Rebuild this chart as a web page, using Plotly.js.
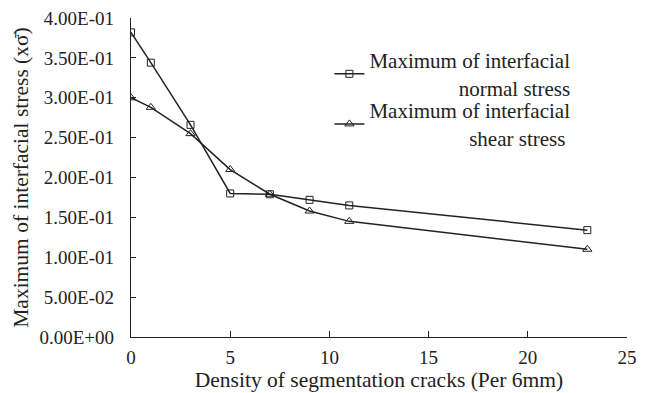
<!DOCTYPE html>
<html>
<head>
<meta charset="utf-8">
<script src="https://cdn.plot.ly/plotly-3.0.1.min.js"></script>
<style>html,body{margin:0;padding:0;background:#fff;}</style>
</head>
<body>
<div id="chart" style="width:651px;height:393px;"></div>
<script>
const crackDensity = [0, 1, 3, 5, 7, 9, 11, 23];
const normalStress = [0.382, 0.344, 0.266, 0.180, 0.179, 0.172, 0.165, 0.134];
const shearStress  = [0.300, 0.288, 0.255, 0.210, 0.179, 0.158, 0.145, 0.110];
const xTickVals = [0, 5, 10, 15, 20, 25];
const yTickVals = [0, 0.05, 0.10, 0.15, 0.20, 0.25, 0.30, 0.35, 0.40];
const yTickText = ["0.00E+00","5.00E-02","1.00E-01","1.50E-01","2.00E-01","2.50E-01","3.00E-01","3.50E-01","4.00E-01"];
const nb = n => "\u00a0".repeat(n);
const seriesNames = [
  "Maximum of interfacial<br>" + nb(17) + "normal stress",
  "Maximum of interfacial<br>" + nb(19) + "shear stress"
];

const ink = "#222";
const fam = "Liberation Serif";
const f = size => ({family: fam, size: size, color: ink});

const traces = [
  {x: crackDensity, y: normalStress, name: seriesNames[0], mode: "lines+markers", legend: "legend",
   line: {color: ink, width: 1.5},
   marker: {symbol: "square-open", size: 7, color: ink, line: {width: 1}}},
  {x: crackDensity, y: shearStress, name: seriesNames[1], mode: "lines+markers", legend: "legend2",
   line: {color: ink, width: 1.5},
   marker: {symbol: "triangle-up-open", size: 8, color: ink, line: {width: 1}}}
];

const legendBase = {x: 0.40, xanchor: "left", yanchor: "top", bgcolor: "rgba(0,0,0,0)",
                    font: f(21), itemwidth: 30};

const layout = {
  width: 651, height: 393,
  margin: {l: 131, r: 24, t: 18, b: 56},
  paper_bgcolor: "#fff", plot_bgcolor: "#fff",
  font: f(18),
  showlegend: true,
  legend: Object.assign({}, legendBase, {y: 0.931}),
  legend2: Object.assign({}, legendBase, {y: 0.774}),
  xaxis: {
    range: [0, 25], tickvals: xTickVals, ticks: "inside", ticklen: 6,
    tickcolor: ink, showline: true, linecolor: ink, linewidth: 1.2, showgrid: false, zeroline: false,
    tickfont: f(19), ticklabelstandoff: 3,
    title: {text: "Density of segmentation cracks (Per 6mm)" + nb(3), font: f(21.5), standoff: 3}
  },
  yaxis: {
    range: [0, 0.4], tickvals: yTickVals, ticktext: yTickText, ticks: "inside", ticklen: 5,
    tickcolor: ink, showline: true, linecolor: ink, linewidth: 1.2, showgrid: false, zeroline: false,
    tickfont: f(19), ticklabelstandoff: 12,
    title: {text: "Maximum of interfacial stress (x\u03c3\u0304)", font: f(21.5), standoff: 4}
  }
};

Plotly.newPlot("chart", traces, layout, {displayModeBar: false, staticPlot: true});
</script>
</body>
</html>
